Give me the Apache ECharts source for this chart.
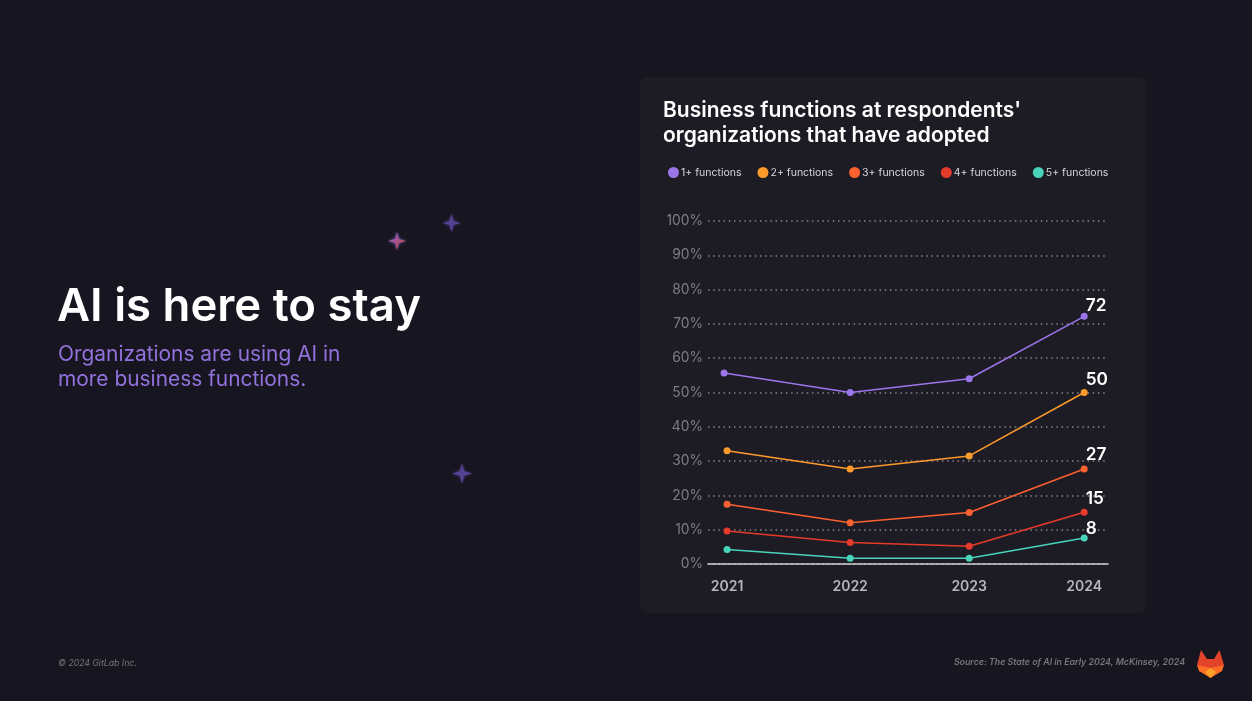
<!DOCTYPE html>
<html><head><meta charset="utf-8">
<style>html,body{margin:0;padding:0;background:#17151f}#c{width:1252px;height:701px}</style>
<script src="https://cdn.jsdelivr.net/npm/echarts@6/dist/echarts.min.js"></script>
</head><body><div id="c"></div>
<script>
const years = [2021, 2022, 2023, 2024];
// horizontal placement of each year (slightly uneven in the reference)
const yearPositions = [2021, 2022.034, 2023.034, 2024];
const seriesNames = ['1+ functions', '2+ functions', '3+ functions', '4+ functions', '5+ functions'];
const f1 = [55.7, 50, 54, 72.2];
const f2 = [33, 27.7, 31.5, 50];
const f3 = [17.4, 12, 15, 27.7];
const f4 = [9.6, 6.3, 5.2, 15.1];
const f5 = [4.2, 1.7, 1.7, 7.6];
// the 1+ line starts slightly left of the other lines in the reference
const firstPointShift = [-0.025, 0, 0, 0, 0];
const endLabels = ['72', '50', '27', '15', '8'];
const labelLift = [-11, -13, -14, -13, -9];
const colors = ['#9b76ea', '#fd9a2c', '#fc6130', '#e63a2b', '#48d4bb'];
const allValues = [f1, f2, f3, f4, f5];
const font = 'Inter';

const star = (cx, cy, r, c0, c1) => ({
  type: 'polygon', silent: true,
  shape: { points: [[cx, cy - r], [cx + r * .22, cy - r * .22], [cx + r, cy], [cx + r * .22, cy + r * .22], [cx, cy + r], [cx - r * .22, cy + r * .22], [cx - r, cy], [cx - r * .22, cy - r * .22]] },
  style: { fill: { type: 'linear', x: 0, y: 0, x2: 1, y2: 1, colorStops: [{ offset: 0, color: c0 }, { offset: 1, color: c1 }] }, shadowBlur: 3, shadowColor: c0 }
});
const poly = (pts, fill) => ({ type: 'polygon', silent: true, shape: { points: pts }, style: { fill } });

const chart = echarts.init(document.getElementById('c'), null, { renderer: 'canvas' });
chart.setOption({
  animation: false,
  backgroundColor: '#17151f',
  title: [
    { text: 'AI is here to stay', left: 52, top: 274, textStyle: { fontFamily: font, fontSize: 45.5, fontWeight: 600, color: '#ffffff', lineHeight: 56 } },
    { text: 'Organizations are using AI in\nmore business functions.', left: 53, top: 337, textStyle: { fontFamily: font, fontSize: 20.9, fontWeight: 400, color: '#9272dc', lineHeight: 25 } },
    { text: "Business functions at respondents'\norganizations that have adopted", left: 658, top: 93, textStyle: { fontFamily: font, fontSize: 21, fontWeight: 600, color: '#ffffff', lineHeight: 25 } },
    { text: '© 2024 GitLab Inc.', left: 53, top: 654, textStyle: { fontFamily: font, fontSize: 8.7, fontStyle: 'italic', fontWeight: 400, color: '#77757c' } },
    { text: 'Source: The State of AI in Early 2024, McKinsey, 2024', right: 62, top: 653, textStyle: { fontFamily: font, fontSize: 8.8, fontStyle: 'italic', fontWeight: 600, color: '#77757c' } }
  ],
  graphic: [
    { type: 'rect', z: -10, silent: true, shape: { x: 640, y: 77, width: 506, height: 536, r: 8 }, style: { fill: '#1d1b23' } },
    star(397, 241, 9, '#7d5fd0', '#d0463c'),
    star(451.5, 223, 9, '#4f3d8c', '#5a4699'),
    star(462, 473.5, 10, '#4f3d8c', '#5a4699'),
    poly([[1197, 665], [1201, 650], [1207, 659], [1214, 659], [1219.5, 650], [1224, 665], [1210.5, 678]], '#e24329'),
    poly([[1197, 665], [1210.5, 668], [1224, 665], [1222, 671], [1210.5, 678], [1199, 671]], '#fc6d26'),
    poly([[1205, 672], [1210.5, 668], [1216, 672], [1210.5, 678]], '#fca326')
  ],
  legend: {
    left: 663, top: 162, icon: 'circle', itemWidth: 11, itemHeight: 11, itemGap: 16,
    selectedMode: false, data: seriesNames,
    textStyle: { fontFamily: font, fontSize: 10.5, color: '#d8d6da', padding: [0, 0, 0, -3] }
  },
  grid: { left: 708, right: 144, top: 221, bottom: 137, containLabel: false },
  xAxis: {
    type: 'value', min: 2020.84, max: 2024.2, splitLine: { show: false },
    axisLine: { show: true, onZero: true, lineStyle: { color: '#d3d1d5', width: 1.5 } },
    axisTick: { show: false },
    axisLabel: {
      customValues: yearPositions, margin: 16,
      formatter: v => String(years[yearPositions.indexOf(v)]),
      fontFamily: font, fontSize: 14, fontWeight: 600, color: '#b8b6ba'
    }
  },
  yAxis: {
    type: 'value', min: 0, max: 100, interval: 10,
    axisLine: { show: false }, axisTick: { show: false },
    axisLabel: { formatter: '{value}%', margin: 5, fontFamily: font, fontSize: 13.8, color: '#807e84' },
    splitLine: { show: true, lineStyle: { type: [1.5, 3.7], color: '#86848a', width: 1.5 } }
  },
  series: seriesNames.map((name, s) => ({
    name, type: 'line', symbol: 'circle', symbolSize: 7, z: 5,
    data: allValues[s].map((v, i) => i === 3 ? {
      value: [yearPositions[i], v],
      label: {
        show: true, position: 'right', align: 'left', offset: [-7, labelLift[s]],
        formatter: endLabels[s], fontFamily: font, fontSize: 17.3, fontWeight: 600, color: '#ffffff'
      }
    } : [yearPositions[i] + (i === 0 ? firstPointShift[s] : 0), v]),
    itemStyle: { color: colors[s] },
    lineStyle: { color: colors[s], width: 1.5 }
  }))
});
</script></body></html>
